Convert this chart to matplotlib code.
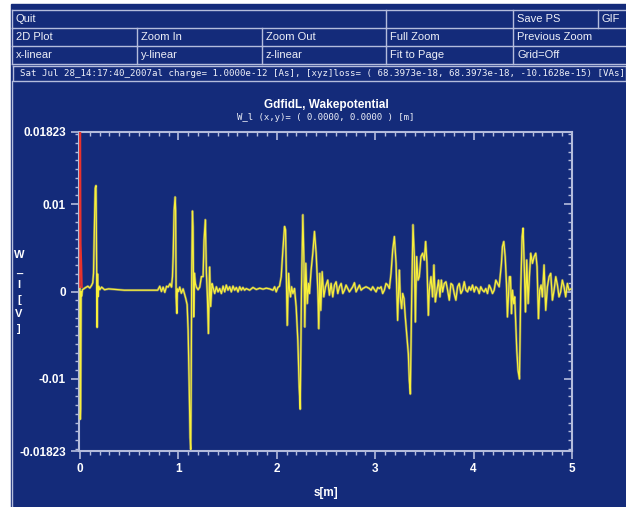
import matplotlib
matplotlib.use("Agg")
import matplotlib.pyplot as plt
from matplotlib.patches import Rectangle
from matplotlib.ticker import MultipleLocator
import numpy as np

BLUE = "#142b7a"
LINE = "#b4bcdc"
TXT = "#eef0f8"
plt.rcParams['font.family'] = ['Liberation Sans', 'DejaVu Sans']

# wake potential W_l (s in m, W in 1e-3 V)
s_m = [
    0.000, 0.003, 0.007, 0.012, 0.017, 0.025, 0.050, 0.080, 0.100, 0.118,
    0.130, 0.138, 0.145, 0.155, 0.163, 0.168, 0.174, 0.179, 0.183, 0.190,
    0.200, 0.220, 0.250, 0.290, 0.450, 0.620, 0.790, 0.811, 0.828, 0.845,
    0.862, 0.880, 0.896, 0.915, 0.930, 0.940, 0.947, 0.957, 0.967, 0.972,
    0.977, 0.985, 0.990, 1.000, 1.014, 1.030, 1.048, 1.065, 1.075, 1.089,
    1.099, 1.109, 1.119, 1.126, 1.131, 1.136, 1.143, 1.149, 1.156, 1.163,
    1.173, 1.183, 1.200, 1.217, 1.234, 1.251, 1.261, 1.274, 1.285, 1.295,
    1.305, 1.312, 1.318, 1.328, 1.342, 1.352,
    1.369, 1.386, 1.403, 1.420, 1.437, 1.454, 1.471, 1.487, 1.504, 1.521,
    1.538, 1.555, 1.572, 1.589, 1.606, 1.623, 1.640, 1.656, 1.673, 1.690,
    1.724, 1.758, 1.792, 1.826, 1.860, 1.893, 1.927,
    1.961, 1.978, 1.994, 2.011, 2.028, 2.045, 2.062, 2.079, 2.089, 2.096,
    2.106, 2.120, 2.130, 2.140, 2.150, 2.164, 2.180, 2.197, 2.214, 2.228,
    2.238, 2.251, 2.265, 2.275, 2.285, 2.295, 2.309, 2.322, 2.332, 2.349,
    2.366, 2.383, 2.400, 2.417, 2.427, 2.437, 2.447, 2.461, 2.478, 2.495,
    2.518, 2.535, 2.552, 2.569, 2.586, 2.603, 2.620, 2.637, 2.654, 2.671,
    2.688, 2.704, 2.738, 2.772, 2.789, 2.806, 2.823, 2.840, 2.857, 2.874,
    2.907, 2.941,
    2.958, 2.975, 2.992, 3.009, 3.026, 3.043, 3.060, 3.076, 3.093, 3.110,
    3.127, 3.144, 3.161, 3.178, 3.195, 3.212, 3.228, 3.245, 3.255, 3.269,
    3.279, 3.293, 3.306, 3.323, 3.337, 3.347, 3.357, 3.371, 3.384, 3.398,
    3.408, 3.421, 3.435, 3.448, 3.465, 3.482, 3.499, 3.513, 3.526, 3.540,
    3.550, 3.567, 3.584, 3.597, 3.611, 3.628, 3.644, 3.658, 3.672, 3.685,
    3.702, 3.719, 3.736, 3.753, 3.770, 3.787, 3.803, 3.820, 3.837, 3.854,
    3.871, 3.888, 3.905, 3.922, 3.939,
    3.955, 3.972, 3.989, 4.006, 4.023, 4.040, 4.057, 4.073, 4.090, 4.107,
    4.124, 4.141, 4.158, 4.175, 4.192, 4.209, 4.226, 4.243, 4.260, 4.270,
    4.283, 4.293, 4.307, 4.321, 4.334, 4.344, 4.354, 4.364, 4.375, 4.385,
    4.395, 4.408, 4.418, 4.429, 4.439, 4.452, 4.466, 4.479, 4.493, 4.503,
    4.517, 4.527, 4.540, 4.554, 4.567, 4.581, 4.598, 4.615, 4.632, 4.645,
    4.659, 4.672, 4.686, 4.699, 4.716, 4.733, 4.750, 4.767, 4.784, 4.801,
    4.818, 4.835, 4.852, 4.868, 4.885, 4.902, 4.919, 4.936, 4.953, 4.970,
    4.990,
]
wake_mV = [
    0.5, -14.6, -13.4, 0.0, -0.5, 0.2, 0.4, 0.6, 0.4, 0.7,
    1.0, 2.1, 6.5, 11.8, 12.1, 4.7, -4.1, 2.0, -0.6, 0.6,
    0.2, 0.5, 0.2, 0.3, 0.15, 0.15, 0.15, 0.6, 0.0, 0.5,
    -0.1, 0.6, 0.5, 0.9, 0.5, 1.7, 4.0, 9.3, 10.8, 9.3,
    -0.6, -2.5, 0.3, 0.0, 0.5, -0.2, 0.3, -0.4, -0.8, -1.5,
    -4.4, -10.2, -16.7, -18.05, -8.0, 2.4, 9.2, 7.4, -2.9, 2.1,
    0.9, 0.5, 0.2, 0.5, 1.7, 1.7, 5.9, 8.2, 2.1, -0.6,
    -4.8, -1.0, 2.8, -1.7, 0.9, 0.5,
    -0.23, 0.54, -0.04, 0.34, -0.23, 0.61, -0.04, 0.73, 0.15, 0.54,
    -0.04, 0.61, 0.15, 0.46, -0.04, 0.54, 0.15, 0.46, 0.15, 0.34,
    0.15, 0.46, 0.23, 0.38, 0.27, 0.38, 0.30,
    0.15, 0.54, -0.04, 0.46, 0.61, 1.69, 4.75, 7.43, 7.05, 2.45,
    -3.87, 2.07, 0.15, -0.61, 0.54, -0.23, 0.34, -1.76, -5.59, -10.96,
    -13.45, 0.15, 8.77, 3.98, -4.06, 3.22, -1.38, 0.92, -0.23, 2.45,
    4.37, 6.86, 4.37, 0.15, -4.25, 2.07, -2.15, 2.26, -0.61, 0.54,
    1.30, -0.42, 0.92, -0.61, 0.73, 1.11, -0.23, 0.54, 0.92, -0.23,
    0.15, 0.73, -0.04, 0.54, 1.0, -0.04, 0.34, 0.73, 0.15, 0.34,
    0.54, 0.34,
    0.15, 0.54, 0.23, -0.04, 0.46, 0.34, 0.54, -0.23, 0.15, 0.92,
    0.73, 0.34, 2.07, 4.75, 6.28, 3.22, -3.30, 2.45, -0.61, -1.95,
    -0.23, -0.8, -2.91, -5.21, -7.13, -10.19, -11.72, -0.61, 7.63, 3.98,
    -3.49, 3.98, 1.30, 1.69, 3.98, 4.37, 3.60, 5.71, 3.22, -2.72,
    0.15, 1.69, -0.61, 3.03, -1.19, 0.15, 1.30, -0.61, 1.30, -0.04,
    0.92, 1.11, 0.15, -0.99, 0.92, 0.73, -0.23, -0.99, 0.54, 0.92,
    -0.23, 0.15, 1.11, 0.15, -0.04,
    0.54, 0.15, 0.73, -0.04, 0.54, 0.34, -0.23, 0.54, 0.15, -0.04,
    0.34, -0.23, 0.73, 0.34, -0.23, 0.15, 1.30, 0.92, 0.54, 1.69,
    3.22, 5.13, 5.71, 3.98, 0.92, -2.91, -0.61, 1.69, 1.69, -2.53,
    0.15, -1.38, -0.61, -3.68, -6.74, -9.04, -10.0, 0.15, 6.28, 7.24,
    2.07, -2.34, 3.60, -1.38, 1.69, 4.37, 3.22, 3.98, 4.37, 2.84,
    -3.10, 0.15, 0.73, -0.61, 3.03, -2.15, 0.54, 1.69, 2.07, -0.99,
    0.15, 1.69, 0.73, -0.61, -0.04, 1.30, 0.54, -0.61, 0.92, 0.15,
    0.30,
]
# red curve near s=0 (clipped at the top of the frame)
red_s = [0.000, 0.003, 0.008, 0.015, 0.020]
red_mV = [0.5, 20.0, 5.5, 3.0, 0.5]

y_ticks = [-0.01823, -0.01, 0.0, 0.01, 0.01823]
y_labels = ["-0.01823", "-0.01", "0", "0.01", "0.01823"]
x_ticks = [0, 1, 2, 3, 4, 5]

menu_rows = [
    ["Quit", None, None, "", "Save PS", "GIF"],
    ["2D Plot", "Zoom In", "Zoom Out", "Full Zoom", "Previous Zoom", None],
    ["x-linear", "y-linear", "z-linear", "Fit to Page", "Grid=Off", None],
]
col_x = [12, 137, 262, 386, 513, 598, 640]
row_y = [10, 28, 46, 64]

info = ("Sat Jul 28_14:17:40_2007al charge= 1.0000e-12 [As], [xyz]loss= "
        "( 68.3973e-18, 68.3973e-18, -10.1628e-15) [VAs]")

W, H = 626, 507
fig = plt.figure(figsize=(W / 100, H / 100), dpi=100, facecolor="white")

# GUI background, menu and texts in pixel coordinates
bg = fig.add_axes([0, 0, 1, 1])
bg.set_xlim(0, W)
bg.set_ylim(H, 0)
bg.axis("off")
bg.add_patch(Rectangle((11, 4), W - 11, H - 4, color=BLUE, zorder=0))

for r, row in enumerate(menu_rows):
    y0, y1 = row_y[r], row_y[r + 1]
    bg.plot([12, W], [y0, y0], color=LINE, lw=1)
    c = 0
    while c < len(row):
        span = 1
        while c + span < len(row) and row[c + span] is None:
            span += 1
        x0 = col_x[c]
        bg.plot([x0, x0], [y0, y1], color=LINE, lw=1)
        if row[c]:
            bg.text(x0 + 4, (y0 + y1) / 2 + 0.5, row[c], color=TXT, fontsize=8,
                    va="center", ha="left")
        c += span
bg.plot([12, W], [row_y[-1], row_y[-1]], color=LINE, lw=1)

# info box
bg.plot([13, W, W, 13, 13], [66, 66, 81, 81, 66], color=LINE, lw=1)
bg.text(20, 73.5, info, color=TXT, fontsize=6.55, family="DejaVu Sans Mono",
        va="center", ha="left")
bg.plot([12, 12], [81, H], color=LINE, lw=1)

bg.text(326, 105, "GdfidL, Wakepotential", color="white", fontsize=8.5,
        fontweight="bold", ha="center", va="center")
bg.text(326, 118, "W_l (x,y)= ( 0.0000, 0.0000 ) [m]", color=TXT, fontsize=6.5,
        family="DejaVu Sans Mono", ha="center", va="center")
bg.text(19, 292, "W\n_\nl\n[\nV\n]", color="white", fontsize=8, fontweight="bold",
        ha="center", va="center", linespacing=1.62)
bg.text(326, 493, "s[m]", color="white", fontsize=8.5, fontweight="bold",
        ha="center", va="center")

# plot area
left, right, top, bottom = 78.5, 572, 132, 451
ax = fig.add_axes([left / W, 1 - bottom / H, (right - left) / W, (bottom - top) / H])
ax.set_facecolor("none")
s = np.array(s_m)
w = np.array(wake_mV) * 1e-3
ax.plot(s, w, color="#86866a", lw=1.8, alpha=0.8, zorder=2)
ax.plot(s, w, color="#f8f03a", lw=0.9, zorder=3)
ax.plot(red_s, np.array(red_mV) * 1e-3, color="#e8322c", lw=1.2, zorder=4)

ax.set_xlim(-0.015, 5.0)
ax.set_ylim(-0.01823, 0.01823)
for sp in ax.spines.values():
    sp.set_color(LINE)
    sp.set_linewidth(1.5)

ax.set_yticks(y_ticks)
ax.set_yticklabels(y_labels)
ax.set_xticks(x_ticks)
ax.yaxis.set_minor_locator(MultipleLocator(0.001))
ax.xaxis.set_minor_locator(MultipleLocator(0.1))
ax.tick_params(which="both", direction="out", colors=LINE, top=False, right=False)
ax.tick_params(which="major", length=6, width=1.2, labelcolor="white",
               labelsize=8.5, pad=3)
ax.tick_params(which="minor", length=3, width=1)
for lab in ax.get_xticklabels() + ax.get_yticklabels():
    lab.set_fontweight("bold")

# inward ticks on the top and right sides
secx = ax.secondary_xaxis("top")
secx.set_xticks(x_ticks)
secx.xaxis.set_minor_locator(MultipleLocator(0.1))
secx.tick_params(which="both", direction="in", colors=LINE, labeltop=False)
secx.tick_params(which="major", length=6, width=1.2)
secx.tick_params(which="minor", length=3, width=1)
secx.spines["top"].set_visible(False)

secy = ax.secondary_yaxis("right")
secy.set_yticks(y_ticks)
secy.yaxis.set_minor_locator(MultipleLocator(0.001))
secy.tick_params(which="both", direction="in", colors=LINE, labelright=False)
secy.tick_params(which="major", length=6, width=1.2)
secy.tick_params(which="minor", length=3, width=1)
secy.spines["right"].set_visible(False)

plt.savefig("out.png", dpi=100, facecolor="white")
